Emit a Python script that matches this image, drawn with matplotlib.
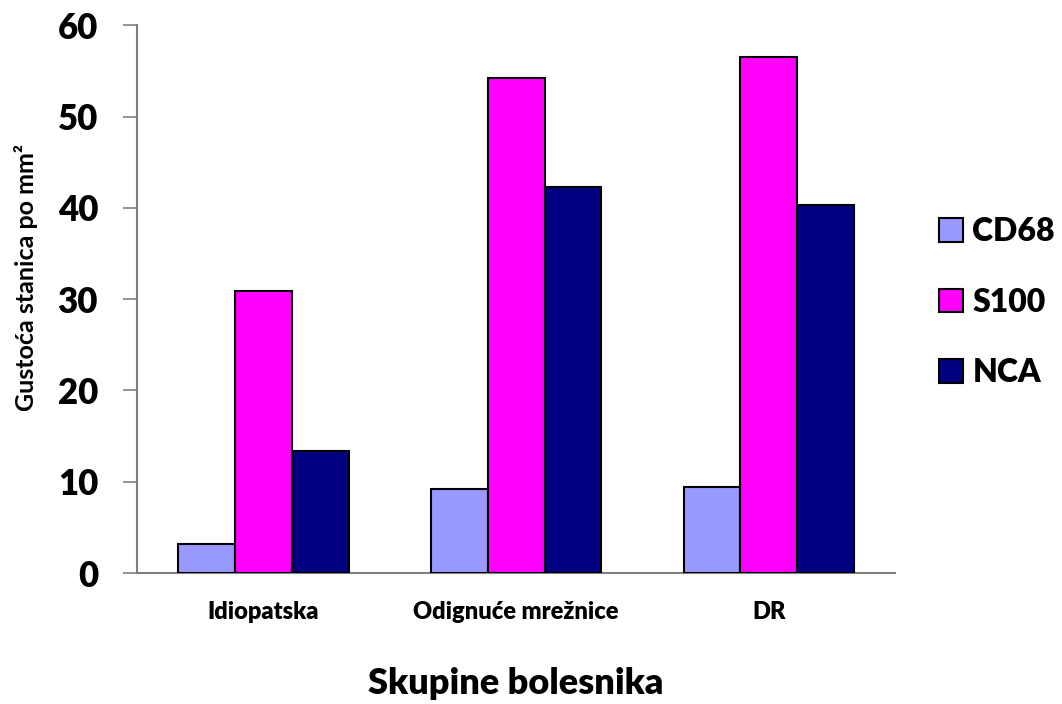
import numpy as np
import matplotlib
matplotlib.use("Agg")
import matplotlib.pyplot as plt

plt.rcParams['font.family'] = ['Lato', 'DejaVu Sans']
plt.rcParams['font.weight'] = 'bold'

groups = ['Idiopatska', 'Odignuće mrežnice', 'DR']
series = ['CD68', 'S100', 'NCA']
cd68 = [3.2, 9.2, 9.4]
s100 = [30.9, 54.2, 56.5]
nca = [13.4, 42.3, 40.3]
colors = ['#9999FF', '#FF00FF', '#000080']

fig = plt.figure(figsize=(10.62, 7.04), dpi=100)
ax = fig.add_axes([0.129, 0.186, 0.714, 0.778])

x = np.arange(len(groups))
w = 0.225
for i, (vals, name) in enumerate(zip([cd68, s100, nca], series)):
    ax.bar(x + (i - 1) * w, vals, w, color=colors[i], edgecolor='black',
           linewidth=1.5, label=name, zorder=3)

ax.set_xlim(-0.5, 2.5)
ax.set_ylim(0, 60)
ax.set_yticks(range(0, 61, 10))
ax.set_xticks(x)
ax.set_xticklabels(groups, fontsize=17, fontweight='heavy')
ax.tick_params(axis='x', length=0, pad=20)
ax.tick_params(axis='y', length=10, width=1.2, color='#808080', pad=18,
               labelsize=25)
for lab in ax.get_yticklabels():
    lab.set_fontweight('heavy')

for s in ['top', 'right']:
    ax.spines[s].set_visible(False)
for s in ['left', 'bottom']:
    ax.spines[s].set_color('#808080')
    ax.spines[s].set_linewidth(1.5)

ax.set_ylabel('Gustoća stanica po mm²', fontsize=18, fontweight='bold', labelpad=12)
ax.yaxis.set_label_coords(-0.131, 0.54)
ax.set_xlabel('Skupine bolesnika', fontsize=26, fontweight='heavy', labelpad=32)

leg = fig.legend(loc='center left', bbox_to_anchor=(0.884, 0.571),
                 frameon=False, fontsize=23, handlelength=0.75,
                 handleheight=0.75, handletextpad=0.3, labelspacing=1.3,
                 borderpad=0, borderaxespad=0)
for t in leg.get_texts():
    t.set_fontweight('heavy')

fig.savefig('out.png', dpi=100)
